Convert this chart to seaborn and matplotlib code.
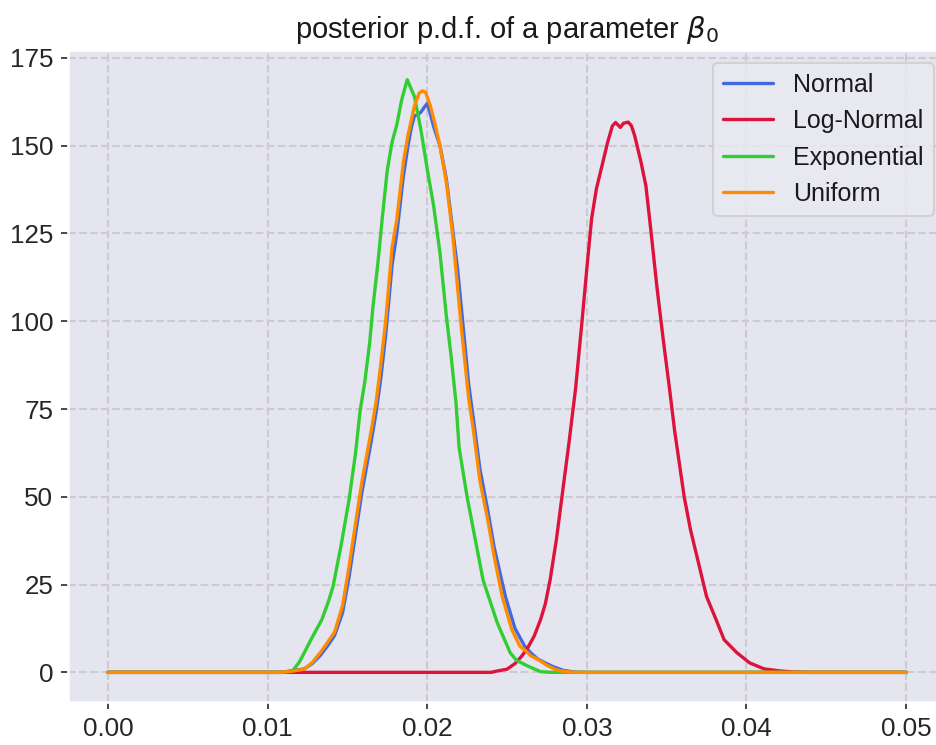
import numpy as np
import pandas as pd
import matplotlib
matplotlib.use("Agg")
import matplotlib.pyplot as plt
import seaborn as sns

# ---- data ----
series_names = ["Normal", "Log-Normal", "Exponential", "Uniform"]
series_colors = ["royalblue", "crimson", "limegreen", "darkorange"]

normal_x = [0.0, 0.0108, 0.0115, 0.0123, 0.0128, 0.0133, 0.0138, 0.0142, 0.0147, 0.0151,
            0.0155, 0.0159, 0.0165, 0.0168, 0.0171, 0.0174, 0.0178, 0.0181, 0.0183, 0.0185,
            0.0188, 0.0190, 0.0192, 0.0194, 0.0196, 0.0198, 0.0200, 0.0202, 0.0204, 0.0208,
            0.0212, 0.0216, 0.0219, 0.0222, 0.0226, 0.0229, 0.0233, 0.0238, 0.0242, 0.0249,
            0.0255, 0.0261, 0.0265, 0.0269, 0.0273, 0.0279, 0.0285, 0.0292, 0.0300, 0.0500]
normal_y = [0.0, 0.0, 0.4, 1.0, 2.5, 4.8, 7.8, 10.5, 17.0, 27.0,
            39.0, 51.0, 66.0, 74.0, 84.0, 96.0, 116.0, 125.0, 133.0, 141.0,
            150.0, 155.0, 158.5, 158.8, 159.5, 160.8, 162.0, 159.0, 155.5, 150.0,
            140.5, 126.0, 115.0, 101.0, 82.0, 72.0, 58.0, 46.0, 35.5, 21.6,
            12.5, 7.5, 5.5, 3.9, 2.9, 1.6, 0.6, 0.1, 0.0, 0.0]

lognormal_x = [0.0, 0.0240, 0.0244, 0.0250, 0.0255, 0.0259, 0.0263, 0.0267, 0.0271, 0.0274,
               0.0277, 0.0281, 0.0285, 0.0289, 0.0293, 0.0297, 0.0300, 0.0303, 0.0306, 0.0310,
               0.0313, 0.0316, 0.0318, 0.0321, 0.0323, 0.0326, 0.0328, 0.0330, 0.0334, 0.0337,
               0.0340, 0.0344, 0.0348, 0.0352, 0.0355, 0.0358, 0.0361, 0.0365, 0.0370, 0.0375,
               0.0381, 0.0386, 0.0394, 0.0402, 0.0411, 0.0421, 0.0430, 0.0440, 0.0500]
lognormal_y = [0.0, 0.0, 0.4, 0.9, 2.5, 4.5, 7.0, 10.3, 15.0, 19.5,
               26.3, 38.0, 52.0, 66.0, 81.0, 100.0, 115.0, 129.2, 137.7, 145.2,
               150.9, 155.6, 156.6, 155.2, 156.4, 156.7, 155.6, 152.8, 145.2, 138.6,
               126.4, 109.4, 94.3, 80.1, 68.8, 59.4, 50.0, 40.5, 31.1, 21.6,
               15.0, 9.3, 5.6, 2.7, 1.0, 0.4, 0.1, 0.0, 0.0]

exponential_x = [0.0, 0.0108, 0.0112, 0.0116, 0.0120, 0.0123, 0.0128, 0.0134, 0.0138, 0.0141,
                 0.0146, 0.0151, 0.0155, 0.0158, 0.0161, 0.0164, 0.0166, 0.0169, 0.0172, 0.0175,
                 0.0178, 0.0181, 0.0184, 0.01875, 0.0192, 0.0196, 0.0200, 0.0204, 0.0208, 0.0212,
                 0.0215, 0.0218, 0.0220, 0.0225, 0.0229, 0.0235, 0.0244, 0.0252, 0.0256, 0.0263,
                 0.0271, 0.0278, 0.0500]
exponential_y = [0.0, 0.0, 0.2, 0.6, 3.0, 5.6, 10.0, 15.0, 20.0, 24.4,
                 36.0, 49.0, 62.0, 74.5, 83.0, 94.0, 104.0, 116.0, 130.0, 143.0,
                 151.0, 156.0, 163.0, 168.8, 164.0, 154.7, 143.4, 133.0, 119.5, 101.5,
                 90.0, 77.0, 64.0, 50.0, 40.5, 26.3, 14.0, 5.6, 3.4, 1.8,
                 0.2, 0.0, 0.0]

uniform_x = [0.0, 0.0108, 0.0115, 0.0123, 0.0128, 0.0133, 0.0138, 0.0142, 0.0147, 0.0151,
             0.0155, 0.0159, 0.0165, 0.0168, 0.0171, 0.0174, 0.0178, 0.0181, 0.0183, 0.0185,
             0.0188, 0.0192, 0.0195, 0.0197, 0.0199, 0.0202, 0.0205, 0.0208, 0.0212, 0.0216,
             0.0221, 0.0226, 0.0229, 0.0233, 0.0238, 0.0242, 0.0247, 0.0253, 0.0258, 0.0262,
             0.0265, 0.0268, 0.0271, 0.0275, 0.0280, 0.0284, 0.0292, 0.0300, 0.0500]
uniform_y = [0.0, 0.0, 0.3, 0.9, 2.8, 5.6, 8.8, 11.5, 19.0, 30.0,
             42.0, 54.0, 69.0, 77.0, 88.0, 100.0, 121.0, 129.0, 137.0, 145.0,
             153.0, 161.3, 165.0, 165.6, 165.2, 161.3, 156.0, 150.0, 139.6, 124.5,
             100.0, 78.0, 68.8, 54.6, 43.3, 32.9, 21.6, 12.2, 7.5, 6.0,
             4.7, 4.0, 3.2, 2.0, 0.9, 0.4, 0.0, 0.0, 0.0]

title_text = r"posterior p.d.f. of a parameter $\beta_0$"
x_ticks = [0.00, 0.01, 0.02, 0.03, 0.04, 0.05]
y_ticks = [0, 25, 50, 75, 100, 125, 150, 175]

# ---- assemble long table ----
xs = [normal_x, lognormal_x, exponential_x, uniform_x]
ys = [normal_y, lognormal_y, exponential_y, uniform_y]
frames = [pd.DataFrame({"x": x, "density": y, "prior": n}) for n, x, y in zip(series_names, xs, ys)]
df = pd.concat(frames, ignore_index=True)

# ---- style ----
sns.set_theme(style="darkgrid", context="notebook")
plt.rcParams["font.family"] = ["Liberation Sans", "DejaVu Sans"]
plt.rcParams.update({
    "axes.facecolor": "#E5E5EF",
    "grid.color": "#CBCBD0",
    "grid.linestyle": "--",
    "grid.linewidth": 1.0,
    "xtick.bottom": True,
    "ytick.left": True,
    "xtick.major.size": 3.5,
    "ytick.major.size": 3.5,
    "xtick.major.width": 0.8,
    "ytick.major.width": 0.8,
    "xtick.color": "#262626",
    "ytick.color": "#262626",
    "xtick.labelsize": 12.5,
    "ytick.labelsize": 12.5,
    "lines.solid_joinstyle": "round",
})

fig = plt.figure(figsize=(936 / 150, 745 / 150), dpi=150)
ax = fig.add_axes([68 / 936, 43 / 745, 878 / 936, 652 / 745])

sns.lineplot(data=df, x="x", y="density", hue="prior", hue_order=series_names,
             palette=dict(zip(series_names, series_colors)), linewidth=1.6,
             sort=False, estimator=None, ax=ax)

ax.set_xticks(x_ticks)
ax.set_xticklabels([f"{t:.2f}" for t in x_ticks])
ax.set_yticks(y_ticks)
ax.set_xlabel("")
ax.set_ylabel("")
ax.set_title(title_text, fontsize=14, color="#1a1a1a")
leg = ax.legend(loc="upper right", fontsize=12, frameon=True, facecolor="#EAEAF2",
                edgecolor="#CCCCCC", framealpha=0.8)
for t in leg.get_texts():
    t.set_color("#1a1a1a")

fig.savefig("out.png", dpi=150)
